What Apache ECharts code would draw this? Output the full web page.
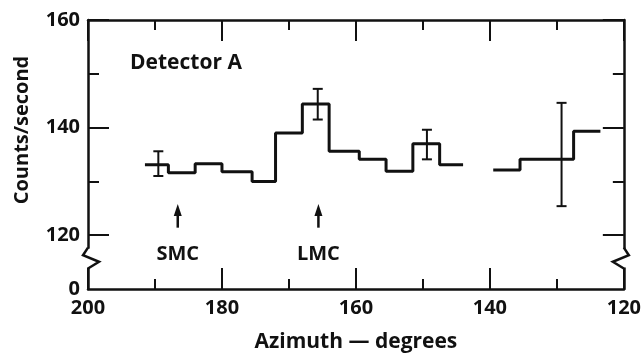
<!DOCTYPE html>
<html>
<head>
<meta charset="utf-8">
<script src="https://cdn.jsdelivr.net/npm/echarts@6/dist/echarts.min.js"></script>
<style>
  html, body { margin: 0; background: #fff; }
  #chart { width: 644px; height: 358px; }
</style>
</head>
<body>
<div id="chart"></div>
<script>
const xTicks = [200, 180, 160, 140, 120];
const yTicks = [0, 120, 140, 160];
const yMinor = [130, 150];

// histogram, first run of bins (edges in degrees, counts/second per bin)
const edgesA = [191.5, 188, 184, 180, 175.5, 172, 168, 164, 159.5, 155.5, 151.5, 147.5, 144];
const countsA = [133.1, 131.6, 133.3, 131.8, 130.0, 139.0, 144.4, 135.6, 134.1, 131.9, 137.0, 133.1];
// second run after the gap
const edgesB = [139.5, 135.5, 127.5, 123.5];
const countsB = [132.1, 134.1, 139.3];

// error bars
const errAz = [189.5, 165.7, 149.4, 129.3];
const errLow = [131.0, 141.5, 134.1, 125.4];
const errHigh = [135.6, 147.2, 139.6, 144.6];

// source markers
const srcNames = ['SMC', 'LMC'];
const srcAz = [186.6, 165.6];

const FONT = "'Open Sans', Roboto, sans-serif";
const WEIGHT = 'bold';
const INK = '#111';
// broken axis: 0 is drawn just below 120
const BREAK_ZERO = 110;
const yPos = v => (v === 0 ? BREAK_ZERO : v);

const stepData = (edges, counts) =>
  edges.map((e, i) => [e, counts[Math.min(i, counts.length - 1)]]);

const chart = echarts.init(document.getElementById('chart'));

const yAxisBase = {
  type: 'value',
  min: BREAK_ZERO,
  max: 160,
  splitLine: { show: false },
  axisLine: { show: false },
  axisLabel: { show: false },
  axisTick: { show: true, inside: true, lineStyle: { color: INK, width: 2 } }
};

const xAxisBase = {
  type: 'value',
  min: 120,
  max: 200,
  interval: 20,
  inverse: true,
  splitLine: { show: false },
  axisLine: { show: true, onZero: false, lineStyle: { color: INK, width: 2.5 } },
  axisTick: { show: true, inside: true, length: 21, lineStyle: { color: INK, width: 2 } },
  minorTick: { show: true, splitNumber: 2, length: 10, lineStyle: { color: INK, width: 2 } }
};

const option = {
  animation: false,
  backgroundColor: '#fff',
  title: {
    text: 'Detector A',
    left: 125,
    top: 48,
    textStyle: { fontFamily: FONT, fontSize: 21, fontWeight: WEIGHT, color: INK }
  },
  grid: { left: 88, right: 17, top: 20, bottom: 67 },
  xAxis: [
    Object.assign({}, xAxisBase, {
      position: 'bottom',
      name: 'Azimuth — degrees',
      nameLocation: 'middle',
      nameGap: 43,
      nameTextStyle: { fontFamily: FONT, fontSize: 21, fontWeight: WEIGHT, color: INK },
      axisLabel: {
        customValues: xTicks,
        margin: 9,
        fontFamily: FONT, fontSize: 20, fontWeight: WEIGHT, color: INK
      }
    }),
    Object.assign({}, xAxisBase, {
      position: 'top',
      axisLabel: { show: false }
    })
  ],
  yAxis: [
    Object.assign({}, yAxisBase, {
      position: 'left',
      axisLine: { show: true, onZero: false, lineStyle: { color: INK, width: 2.5 } },
      axisTick: Object.assign({}, yAxisBase.axisTick, { length: 21, customValues: [120, 140, 160] }),
      axisLabel: {
        show: true,
        customValues: yTicks.map(yPos),
        formatter: v => (v === BREAK_ZERO ? '0' : String(v)),
        margin: 8,
        fontFamily: FONT, fontSize: 20, fontWeight: WEIGHT, color: INK
      }
    }),
    Object.assign({}, yAxisBase, {
      position: 'left',
      axisTick: Object.assign({}, yAxisBase.axisTick, { length: 11, customValues: yMinor })
    }),
    Object.assign({}, yAxisBase, {
      position: 'right',
      axisLine: { show: true, onZero: false, lineStyle: { color: INK, width: 2.5 } },
      axisTick: Object.assign({}, yAxisBase.axisTick, { length: 21, customValues: [120, 140, 160] })
    }),
    Object.assign({}, yAxisBase, {
      position: 'right',
      axisTick: Object.assign({}, yAxisBase.axisTick, { length: 11, customValues: yMinor })
    })
  ],
  series: [
    {
      type: 'line',
      step: 'end',
      symbol: 'none',
      data: stepData(edgesA, countsA),
      lineStyle: { color: INK, width: 3 }
    },
    {
      type: 'line',
      step: 'end',
      symbol: 'none',
      data: stepData(edgesB, countsB),
      lineStyle: { color: INK, width: 3 }
    },
    {
      // error bars with caps
      type: 'custom',
      data: errAz.map((x, i) => [x, errLow[i], errHigh[i]]),
      renderItem: (params, api) => {
        const lo = api.coord([api.value(0), api.value(1)]);
        const hi = api.coord([api.value(0), api.value(2)]);
        const cap = 5;
        const style = { stroke: INK, lineWidth: 2 };
        return {
          type: 'group',
          children: [
            { type: 'line', shape: { x1: lo[0], y1: lo[1], x2: hi[0], y2: hi[1] }, style },
            { type: 'line', shape: { x1: lo[0] - cap, y1: lo[1], x2: lo[0] + cap, y2: lo[1] }, style },
            { type: 'line', shape: { x1: hi[0] - cap, y1: hi[1], x2: hi[0] + cap, y2: hi[1] }, style }
          ]
        };
      }
    },
    {
      // SMC / LMC arrows with labels
      type: 'custom',
      data: srcAz.map((x, i) => [x, srcNames[i]]),
      renderItem: (params, api) => {
        const x = api.value(0);
        const tip = api.coord([x, 125.8]);
        const tail = api.coord([x, 121.4]);
        const lab = api.coord([x, 116.4]);
        return {
          type: 'group',
          children: [
            { type: 'line', shape: { x1: tail[0], y1: tail[1], x2: tip[0], y2: tip[1] + 6 },
              style: { stroke: INK, lineWidth: 2.5 } },
            { type: 'polygon', shape: { points: [[tip[0], tip[1]], [tip[0] - 4, tip[1] + 12], [tip[0] + 4, tip[1] + 12]] },
              style: { fill: INK } },
            { type: 'text', x: lab[0], y: lab[1],
              style: { text: srcNames[params.dataIndex], fontFamily: FONT, fontSize: 20, fontWeight: WEIGHT,
                       fill: INK, align: 'center', verticalAlign: 'middle' } }
          ]
        };
      }
    },
    {
      // zigzag marks where the y scale is broken, on both frame sides
      type: 'custom',
      clip: false,
      data: [[200, 1], [120, -1]],
      renderItem: (params, api) => {
        const dir = api.value(1);
        const a = api.coord([api.value(0), 117.5]);
        const b = api.coord([api.value(0), 114]);
        const h = b[1] - a[1];
        return {
          type: 'group',
          children: [
            { type: 'rect', shape: { x: a[0] - 3, y: a[1], width: 6, height: h },
              style: { fill: '#fff' } },
            { type: 'polyline',
              shape: { points: [
                [a[0], a[1] - 1],
                [a[0] - dir * 5, a[1] + h * 0.35],
                [a[0] + dir * 11, a[1] + h * 0.7],
                [a[0], b[1] + 1]
              ] },
              style: { stroke: INK, lineWidth: 2.5, fill: null } }
          ]
        };
      }
    }
  ],
  graphic: [
    {
      type: 'text',
      x: 22,
      y: 130,
      rotation: Math.PI / 2,
      style: {
        text: 'Counts/second', fontFamily: FONT, fontSize: 20, fontWeight: WEIGHT,
        fill: INK, align: 'center', verticalAlign: 'middle'
      }
    }
  ]
};

chart.setOption(option);
</script>
</body>
</html>
